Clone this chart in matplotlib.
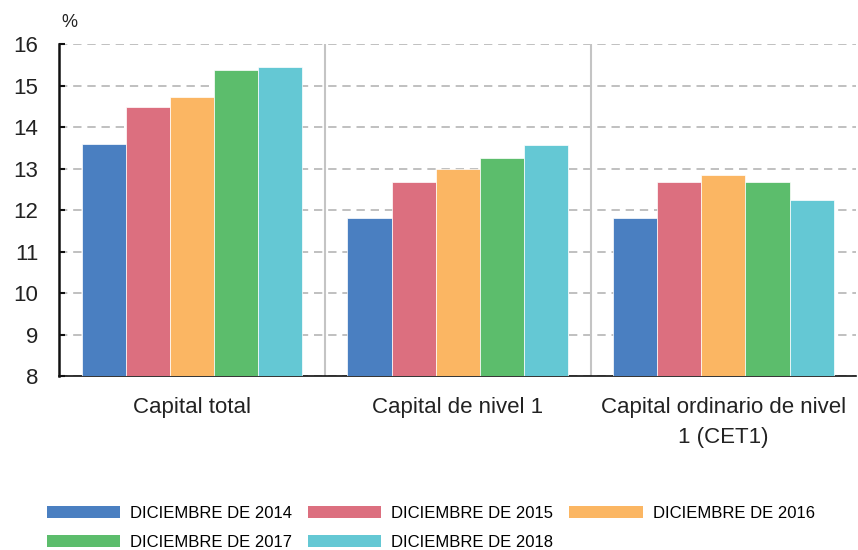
import matplotlib
matplotlib.use("Agg")
import matplotlib.pyplot as plt
import numpy as np
from matplotlib.patches import Patch

categories = ["Capital total", "Capital de nivel 1", "Capital ordinario de nivel\n1 (CET1)"]
series_labels = ["DICIEMBRE DE 2014", "DICIEMBRE DE 2015", "DICIEMBRE DE 2016",
                 "DICIEMBRE DE 2017", "DICIEMBRE DE 2018"]
v2014 = [13.60, 11.82, 11.81]
v2015 = [14.49, 12.67, 12.67]
v2016 = [14.72, 13.00, 12.84]
v2017 = [15.38, 13.26, 12.67]
v2018 = [15.45, 13.57, 12.25]
yticks = [8, 9, 10, 11, 12, 13, 14, 15, 16]

values = [v2014, v2015, v2016, v2017, v2018]
colors = ["#4A7FC1", "#DC6F7F", "#FBB663", "#5CBD6C", "#64C8D4"]

plt.rcParams['font.family'] = ['Liberation Sans', 'DejaVu Sans']

fig = plt.figure(figsize=(8.58, 5.5), dpi=100)
ax = fig.add_axes([0.069, 0.316, 0.929, 0.604])

n = len(series_labels)
bw = 0.166
x = np.arange(len(categories))
for i, (vals, c) in enumerate(zip(values, colors)):
    ax.bar(x + (i - (n - 1) / 2) * bw, np.array(vals) - 8, bottom=8, width=bw,
           color=c, edgecolor="white", linewidth=0.5, zorder=3)

ax.set_ylim(8, 16)
ax.set_xlim(-0.5, len(categories) - 0.5)
ax.set_yticks(yticks)
ax.set_yticklabels([str(t) for t in yticks], fontsize=16, color="#222222")
ax.yaxis.grid(True, linestyle=(0, (5, 3.5)), color="#b5b5b5", linewidth=1.2, zorder=0)
ax.set_axisbelow(True)

for s in [0.5, 1.5]:
    ax.axvline(s, color="#c4c4c4", linewidth=1.5, zorder=1)

ax.set_xticks(x)
ax.set_xticklabels(categories, fontsize=16, linespacing=1.55, color="#222222")
ax.tick_params(axis="x", length=0, pad=15)
ax.tick_params(axis="y", direction="in", length=4, width=1.5, color="#111111", pad=15)

for side in ["top", "right"]:
    ax.spines[side].set_visible(False)
ax.spines["left"].set_color("#111111")
ax.spines["left"].set_linewidth(1.8)
ax.spines["bottom"].set_color("#111111")
ax.spines["bottom"].set_linewidth(1.2)

fig.text(0.072, 0.944, "%", fontsize=13, ha="left", va="bottom", color="#222222")

order = [0, 3, 1, 4, 2]
handles = [Patch(facecolor=colors[i], edgecolor="none") for i in order]
labels = [series_labels[i] for i in order]
fig.legend(handles, labels, loc="lower left", bbox_to_anchor=(0.045, -0.015), ncol=3,
           frameon=False, borderpad=0, handlelength=4.4, handleheight=0.75, handletextpad=0.6,
           columnspacing=0.95, labelspacing=0.84,
           prop={"size": 12})

fig.savefig("out.png", dpi=100)
